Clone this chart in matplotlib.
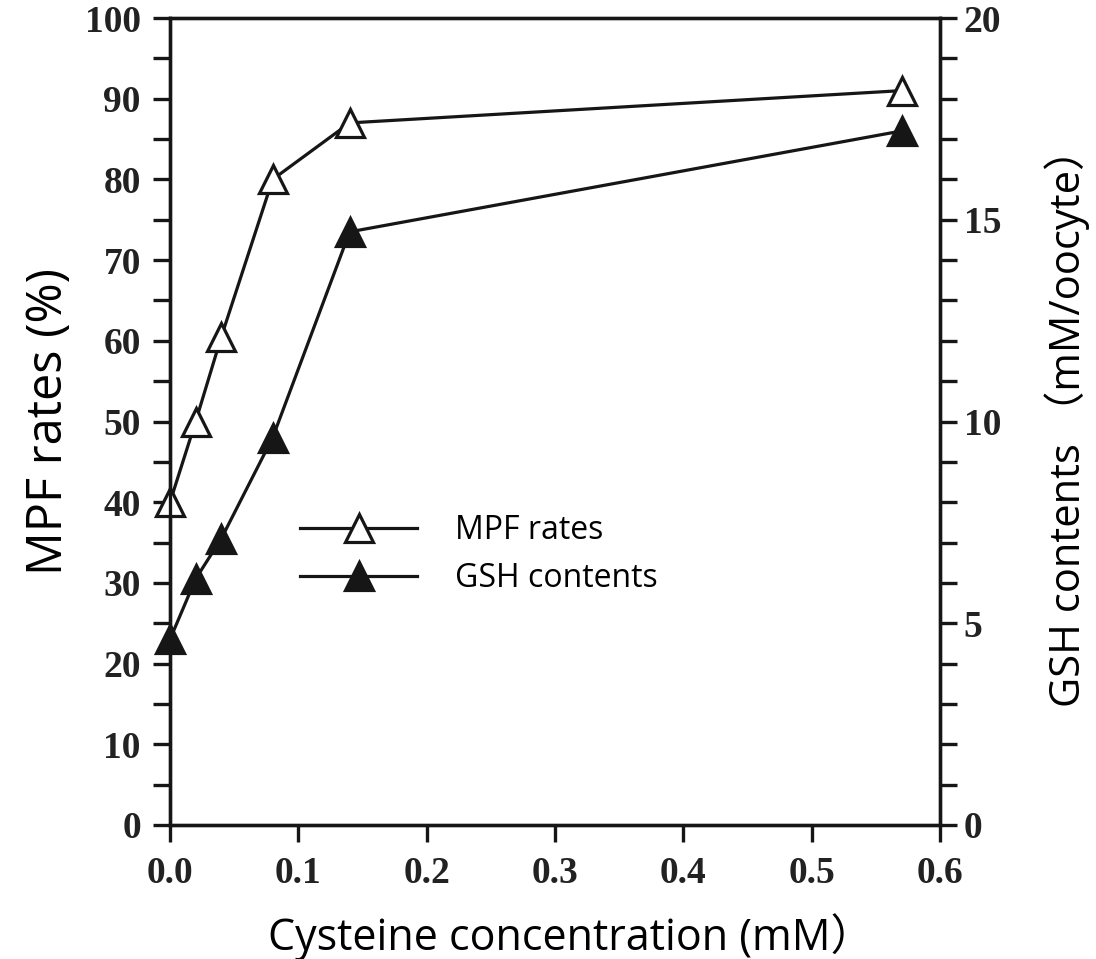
import matplotlib
matplotlib.use('Agg')
import matplotlib.pyplot as plt
from matplotlib.ticker import MultipleLocator, FixedLocator, FixedFormatter

# ---- data ----
cysteine_mM = [0.0, 0.02, 0.04, 0.08, 0.14, 0.57]
mpf_rates = [40, 50, 60.5, 80, 87, 91]
gsh_contents = [4.6, 6.1, 7.1, 9.6, 14.7, 17.2]

x_ticks = [0.0, 0.1, 0.2, 0.3, 0.4, 0.5, 0.6]
x_ticklabels = ["0.0", "0.1", "0.2", "0.3", "0.4", "0.5", "0.6"]
left_ticks = [0, 10, 20, 30, 40, 50, 60, 70, 80, 90, 100]
right_ticks = [0, 5, 10, 15, 20]

series_labels = ["MPF rates", "GSH contents"]
x_label = "Cysteine concentration (mM\uff09"
left_label = "MPF rates (%)"
right_label = "GSH contents \uff08mM/oocyte\uff09"

# ---- figure ----
W, H = 1096, 959
fig = plt.figure(figsize=(W / 100, H / 100), dpi=100)
ax = fig.add_axes([170 / W, 1 - 825 / H, (940 - 170) / W, (825 - 18) / H])
ax2 = ax.twinx()

tick_font = dict(family='Liberation Serif', weight='bold', size=27)
label_fam = ['Open Sans', 'Noto Sans CJK SC']

lw = 2.3
ink = '#161616'
l1, = ax.plot(cysteine_mM, mpf_rates, color=ink, lw=lw, marker='^', ms=20,
              mfc='white', mec=ink, mew=2.3, label=series_labels[0], zorder=3)
l2, = ax2.plot(cysteine_mM, gsh_contents, color=ink, lw=lw, marker='^', ms=20,
               mfc=ink, mec=ink, mew=2.3, label=series_labels[1], zorder=3)
for line in (l1, l2):
    line.set_clip_on(False)

ax.set_xlim(0, 0.6)
ax.set_ylim(0, 100)
ax2.set_ylim(0, 20)

ax.xaxis.set_major_locator(FixedLocator(x_ticks))
ax.xaxis.set_major_formatter(FixedFormatter(x_ticklabels))
ax.yaxis.set_major_locator(FixedLocator(left_ticks))
ax.yaxis.set_minor_locator(MultipleLocator(5))
ax2.yaxis.set_major_locator(FixedLocator(right_ticks))
ax2.yaxis.set_minor_locator(MultipleLocator(1))

for a in (ax, ax2):
    for s in a.spines.values():
        s.set_linewidth(2.4)
        s.set_color(ink)

ax.tick_params(axis='x', which='major', direction='out', length=12, width=2.4,
               pad=10, top=False, color=ink)
ax.tick_params(axis='y', which='major', direction='out', length=12, width=2.4,
               pad=9, color=ink)
ax.tick_params(axis='y', which='minor', direction='out', length=12, width=2.4,
               color=ink)
ax2.tick_params(axis='y', which='major', direction='out', length=12, width=2.4,
                pad=5, color=ink)
ax2.tick_params(axis='y', which='minor', direction='out', length=12, width=2.4,
                color=ink)

for lab in ax.get_xticklabels() + ax.get_yticklabels() + ax2.get_yticklabels():
    lab.set_fontfamily(tick_font['family'])
    lab.set_fontweight(tick_font['weight'])
    lab.set_fontsize(tick_font['size'])
    lab.set_color('#222222')

ax.set_xlabel(x_label, family=label_fam, fontsize=31, labelpad=16)
ax.xaxis.label.set_x(0.52)
ax.set_ylabel(left_label, family=label_fam, fontsize=35, labelpad=8)
ax2.set_ylabel(right_label, family=label_fam, fontsize=30)
ax2.yaxis.set_label_coords(1.135, 0.505)

leg = ax.legend(handles=[l1, l2], loc='upper left',
                bbox_to_anchor=(300 / W, 1 - 514 / H), bbox_transform=fig.transFigure,
                frameon=False, handlelength=3.67, handletextpad=1.19, labelspacing=0.47,
                borderpad=0, borderaxespad=0, numpoints=1,
                prop={'family': label_fam, 'size': 23})

fig.savefig('out.png', dpi=100)
